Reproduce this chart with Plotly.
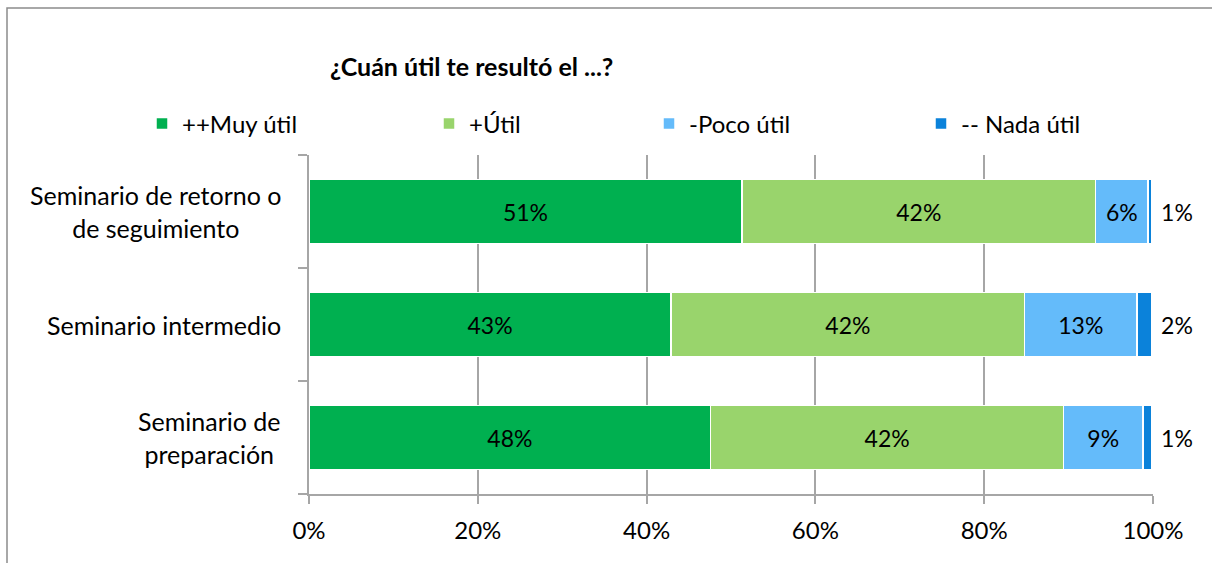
import plotly.graph_objects as go

categories = ["Seminario de<br>preparación", "Seminario intermedio", "Seminario de retorno o<br>de seguimiento"]
series_names = ["++Muy útil", "+Útil", "-Poco útil", "-- Nada útil"]
muy_util = [47.6, 42.9, 51.3]
util = [41.8, 41.9, 41.9]
poco_util = [9.4, 13.3, 6.2]
nada_util = [1.1, 1.8, 0.5]
x_ticks = [0, 20, 40, 60, 80, 100]
x_tick_labels = ["0%", "20%", "40%", "60%", "80%", "100%"]
colors = ["#00B050", "#99D46C", "#64BBFA", "#0B82DA"]

values = [muy_util, util, poco_util, nada_util]
FONT = "Lato, 'Open Sans', sans-serif"
legend_ids = ["legend", "legend2", "legend3", "legend4"]
legend_x = [142, 429, 649, 921]

fig = go.Figure()
for i, (name, vals) in enumerate(zip(series_names, values)):
    last = i == len(series_names) - 1
    fig.add_trace(go.Bar(
        y=categories, x=vals, name=name, orientation="h",
        marker=dict(color=colors[i], line=dict(color="white", width=1.5)),
        texttemplate=("\u00a0%{x:.0f}%" if last else "%{x:.0f}%"),
        textposition="outside" if last else "inside",
        insidetextanchor="middle",
        textfont=dict(size=23, color="black", family=FONT),
        insidetextfont=dict(size=23, color="black", family=FONT),
        outsidetextfont=dict(size=23, color="black", family=FONT),
        cliponaxis=False,
        constraintext="none",
        legend=legend_ids[i],
    ))

for c in categories:
    fig.add_annotation(x=-26/844, xref="paper", y=c, yref="y", text=c,
                       xanchor="right", align="center", showarrow=False,
                       font=dict(size=25, color="black", family=FONT))

fig.add_shape(type="rect", xref="paper", yref="paper",
              x0=(7-309)/844, x1=1.3, y0=-0.4, y1=(494-8)/339,
              line=dict(color="#8c8c8c", width=1.5), fillcolor="rgba(0,0,0,0)")

legends = {}
for lid, lx in zip(legend_ids, legend_x):
    legends[lid] = dict(orientation="h", x=lx/1212, xref="container", y=1-124/563,
                        yref="container", yanchor="middle", xanchor="left",
                        font=dict(size=24, family=FONT, color="black"),
                        bgcolor="rgba(0,0,0,0)")

fig.update_layout(
    width=1212, height=563,
    margin=dict(l=309, r=59, t=155, b=69),
    barmode="stack", bargap=0.43,
    plot_bgcolor="white", paper_bgcolor="white",
    font=dict(family=FONT, color="black"),
    title=dict(text="<b>¿Cuán útil te resultó el ...?</b>", x=330/1212, xanchor="left",
               y=1-67/563, yanchor="middle", font=dict(size=25, family=FONT, color="black")),
    showlegend=True,
    **legends,
)
fig.update_xaxes(range=[0, 100], tickvals=x_ticks, ticktext=x_tick_labels, showgrid=True,
                 gridcolor="#a6a6a6", gridwidth=2, showline=True, linecolor="#a6a6a6",
                 linewidth=2, ticks="outside", ticklen=8, tickcolor="#a6a6a6", tickwidth=2,
                 ticklabelstandoff=6,
                 tickfont=dict(size=24, family=FONT, color="black"), zeroline=False,
                 fixedrange=True, automargin=False)
fig.update_yaxes(showticklabels=False, showline=True, linecolor="#a6a6a6", linewidth=2,
                 ticks="outside", ticklen=9, tickcolor="#a6a6a6", tickwidth=2,
                 tickson="boundaries", showgrid=False, fixedrange=True, automargin=False)

fig.write_html("out.html", config={"displayModeBar": False},
               post_script="document.body.style.margin='0';")
